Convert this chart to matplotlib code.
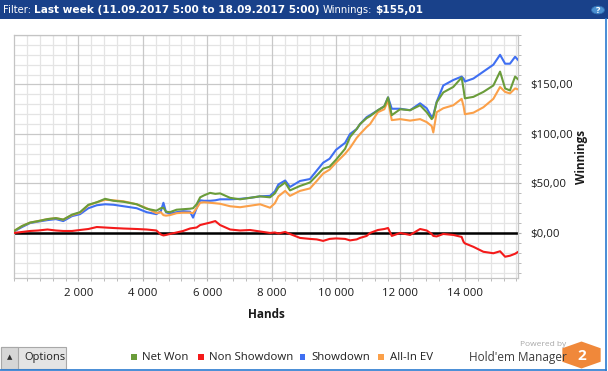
import matplotlib
matplotlib.use("Agg")
import matplotlib.pyplot as plt
from matplotlib.patches import Rectangle, Circle, RegularPolygon
from matplotlib.lines import Line2D
from matplotlib.text import Annotation
from matplotlib.ticker import MultipleLocator, FixedLocator, FixedFormatter

# ---------------- data ----------------
hands = [0, 250, 500, 750, 1040, 1300, 1530, 1800, 2050, 2310, 2570, 2830, 3090, 3400,
         3810, 4120, 4420, 4560, 4640, 4720, 4840, 5050, 5250, 5465, 5560, 5670, 5780,
         5900, 6090, 6250, 6400, 6710, 7020, 7330, 7640, 7950, 8100, 8210, 8420, 8570,
         8880, 9190, 9400, 9600, 9800, 10000, 10280, 10435, 10640, 10745, 10950, 11056,
         11300, 11500, 11615, 11730, 11990, 12300, 12610, 12815, 12970, 13020, 13125,
         13330, 13640, 13900, 13960, 14000, 14265, 14575, 14885, 15093, 15250, 15400,
         15560, 15660]

net_won = [2, 7, 10.5, 12, 14, 15, 13.5, 18.5, 21, 28.5, 31, 34.5, 32.5, 31.5,
           29, 24.5, 22.5, 25, 25.5, 21.5, 21, 23.5, 24, 24.5, 25, 29, 36,
           38, 40.5, 39.5, 40, 35.5, 34, 35.5, 37, 36, 40, 46, 51, 43,
           47.5, 51, 58, 65, 67, 74, 85, 97, 105, 110, 116, 118,
           124, 128, 137, 119, 125, 124, 129, 122, 115, 117, 132,
           142, 147.5, 157, 145, 136, 137.5, 142.5, 149, 163, 146, 144,
           158, 155]

non_showdown = [0, 1, 2, 2.5, 3.5, 2.5, 2, 2, 3, 4, 6, 5.5, 5, 4.5,
                4, 3.5, 2.5, -1.5, -2.5, -2, -1, 0.5, 2, 4.5, 5, 5.5, 8,
                9, 10.5, 12, 8, 3.5, 2.5, 3, 1.5, 0, 0.5, -0.5, 1, -1,
                -5, -6, -6.5, -8, -6, -5.5, -6, -7.5, -6.5, -5, -3, 0,
                3, 4, 5, -3, 0, -2, 4, 2.5, -1, -3, -3.5,
                -1, -2, -4, -9, -10.5, -14, -19, -20.5, -18.5, -24, -23,
                -21, -19]

showdown = [1.5, 6, 10, 11.5, 13, 14, 12, 17, 19, 25, 28, 29, 28.5, 27,
            25, 21, 19, 22, 30.5, 21, 19.5, 21, 22, 21.5, 15.5, 25, 33,
            32.5, 32.5, 33, 34, 34, 34.5, 35.5, 37, 37.5, 42, 49, 53, 46.5,
            52.5, 54.5, 63, 71, 75, 84, 91, 100, 105, 110, 117, 119,
            124, 128, 137, 125.5, 125.5, 124, 131, 126, 117, 119, 132.5,
            149, 154.5, 158, 156, 153, 156, 163, 170, 180, 171, 171,
            178, 174.5]

all_in_ev = [2, 7, 10.5, 12, 14, 15, 13.5, 18, 20.5, 28, 31, 33.5, 33, 32,
             29, 25, 20, 21, 18, 17.5, 18, 20, 20.5, 20.5, 20, 25, 30.5,
             31, 30.5, 30, 29.5, 27, 26, 27.5, 29, 25.5, 30, 37, 42.5, 37.5,
             42.5, 45, 52.5, 60, 64, 71, 80, 86, 96, 100, 107, 110,
             122, 125, 134, 114, 115, 113.5, 115, 112, 108, 101.5, 122,
             126, 129, 135.5, 128, 120, 121.5, 127, 135.5, 147.5, 142.5, 141,
             146, 145]

x_ticks = [2000, 4000, 6000, 8000, 10000, 12000, 14000]
x_tick_labels = ["2 000", "4 000", "6 000", "8 000", "10 000", "12 000", "14 000"]
y_ticks = [0, 50, 100, 150]
y_tick_labels = ["$0,00", "$50,00", "$100,00", "$150,00"]

series_names = ["Net Won", "Non Showdown", "Showdown", "All-In EV"]
series_colors = ["#6a9c3a", "#f41a1a", "#3f6ff2", "#fba049"]

title_parts = [("Filter:", "normal"), ("Last week (11.09.2017 5:00 to 18.09.2017 5:00)", "bold"),
               ("Winnings:", "normal"), ("$155,01", "bold")]

# ---------------- figure ----------------
W, H = 608, 371
FONT = "Open Sans"
fig = plt.figure(figsize=(W / 100, H / 100), dpi=100)
fig.patch.set_facecolor("white")


def fx(x):
    return x / W


def fy(y):
    return 1 - y / H


# plot area in pixels
L, R, T, B = 14, 518, 35, 278
ax = fig.add_axes([fx(L), fy(B), (R - L) / W, (B - T) / H])
ax.set_facecolor("white")

ax.set_xlim(0, 15650)
ax.set_ylim(-45.5, 200)

ax.xaxis.set_major_locator(FixedLocator(x_ticks))
ax.xaxis.set_major_formatter(FixedFormatter(x_tick_labels))
ax.xaxis.set_minor_locator(MultipleLocator(400))
ax.yaxis.set_major_locator(FixedLocator(y_ticks))
ax.yaxis.set_major_formatter(FixedFormatter(y_tick_labels))
ax.yaxis.set_minor_locator(MultipleLocator(10))

# grid lines
for v in range(400, 15650, 400):
    c = "#c8c8c8" if v % 2000 == 0 else "#e4e4e4"
    ax.axvline(v, color=c, lw=0.9, zorder=0.5 if v % 2000 else 0.6)
for v in range(-40, 201, 10):
    c = "#c8c8c8" if v % 50 == 0 else "#e4e4e4"
    ax.axhline(v, color=c, lw=0.9, zorder=0.5 if v % 50 else 0.6)

for s in ax.spines.values():
    s.set_color("#c4c4c4")
    s.set_linewidth(0.9)

ax.yaxis.tick_right()
ax.tick_params(axis="x", which="both", direction="out", length=2.5, color="#b0b0b0",
               labelsize=8.2, pad=5, labelcolor="#1a1a1a")
ax.tick_params(axis="y", which="both", direction="out", length=2.5, color="#b0b0b0",
               labelsize=8.2, pad=6, labelcolor="#1a1a1a", left=False, right=True)
for lab in ax.get_xticklabels() + ax.get_yticklabels():
    lab.set_fontfamily(FONT)

# zero line
ax.axhline(0, color="black", lw=1.8, zorder=2)

# series
order = [2, 3, 0, 1]
data = [net_won, non_showdown, showdown, all_in_ev]
for i in order:
    ax.plot(hands, data[i], color=series_colors[i], lw=1.5, zorder=3, solid_joinstyle="round")

# axis titles
fig.text(fx(266), fy(314), "Hands", ha="center", va="center", fontsize=8.5,
         fontweight="bold", family=FONT, color="#1a1a1a")
fig.text(fx(582), fy(157), "Winnings", ha="center", va="center", rotation=90,
         fontsize=8.5, fontweight="bold", family=FONT, color="#1a1a1a")

# ---------------- title bar ----------------
fig.add_artist(Rectangle((0, fy(19)), 1, 19 / H, transform=fig.transFigure,
                         facecolor="#19418a", edgecolor="none", zorder=1))
title_sizes = {"normal": 7.2, "bold": 7.6}
prev = fig.text(fx(3), fy(10), title_parts[0][0], ha="left", va="center", color="white",
                fontsize=title_sizes[title_parts[0][1]], family="DejaVu Sans",
                fontweight=title_parts[0][1], zorder=2)
for txt, wt in title_parts[1:]:
    a = Annotation(txt, xy=(1, 0), xycoords=prev, xytext=(3, 0), textcoords="offset pixels",
                   ha="left", va="bottom", color="white", fontsize=title_sizes[wt],
                   family="DejaVu Sans", fontweight=wt, zorder=2)
    fig.add_artist(a)
    prev = a

fig.add_artist(Circle((fx(598), fy(10)), 6.5 / W, transform=fig.transFigure,
                      facecolor="#4a8fd0", edgecolor="#2f6db0", lw=0.5, zorder=2))
fig.text(fx(598), fy(10.5), "?", ha="center", va="center", color="white", fontsize=6.5,
         fontweight="bold", family=FONT, zorder=3)

# window borders
fig.add_artist(Line2D([fx(606), fx(606)], [fy(19), fy(371)], transform=fig.transFigure,
                      color="#2a7ad0", lw=1.2))
fig.add_artist(Line2D([0, fx(606)], [fy(370), fy(370)], transform=fig.transFigure,
                      color="#2a7ad0", lw=1.2))

# ---------------- bottom bar ----------------
fig.add_artist(Rectangle((fx(1), fy(369)), 65 / W, 22 / H, transform=fig.transFigure,
                         facecolor="#e4e4e4", edgecolor="#a8a8a8", lw=0.8))
fig.add_artist(Rectangle((fx(1), fy(369)), 17 / W, 22 / H, transform=fig.transFigure,
                         facecolor="#d6d6d6", edgecolor="#a8a8a8", lw=0.8))
fig.text(fx(9.5), fy(357), "▲", ha="center", va="center", fontsize=5, color="#303030",
         family="DejaVu Sans")
fig.text(fx(24), fy(357.5), "Options", ha="left", va="center", fontsize=8, color="#202020",
         family=FONT)

legend_sq_x = [133.5, 200.5, 302.5, 381]
for i, name in enumerate(series_names):
    sx = legend_sq_x[i]
    fig.add_artist(Rectangle((fx(sx - 3), fy(359.5)), 6 / W, 6 / H, transform=fig.transFigure,
                             facecolor=series_colors[i], edgecolor="none"))
    fig.text(fx(sx + 8.5), fy(357), name, ha="left", va="center", fontsize=8.2,
             color="#202020", family=FONT)

fig.text(fx(566), fy(345), "Powered by", ha="right", va="center", fontsize=6,
         color="#a8a8a8", family=FONT)
fig.text(fx(567), fy(357), "Hold'em Manager", ha="right", va="center", fontsize=8.5,
         color="#3c3c3c", family=FONT)
fig.add_artist(RegularPolygon((fx(581.5), fy(355)), numVertices=6, radius=13.5 / H,
                              orientation=0, transform=fig.transFigure,
                              facecolor="#f0883a", edgecolor="none"))
fig.text(fx(581.5), fy(355.5), "2", ha="center", va="center", fontsize=11,
         fontweight="bold", color="white", family=FONT)

fig.savefig("out.png", dpi=100)
